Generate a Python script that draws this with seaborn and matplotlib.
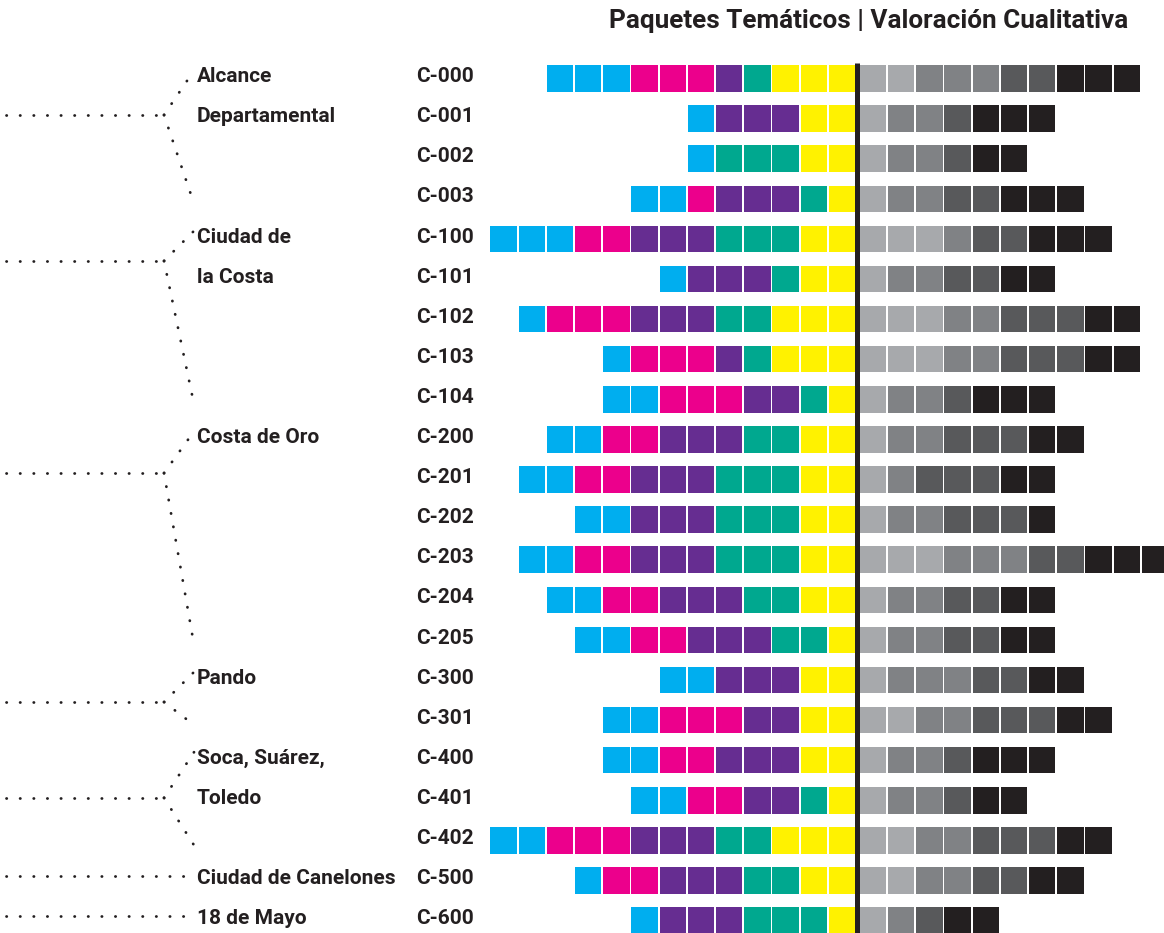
import pandas as pd
import matplotlib.pyplot as plt
import seaborn as sns

sns.set_theme(style="white")
plt.rcParams['font.family'] = ['Roboto', 'DejaVu Sans']

codigos = ['C-000', 'C-001', 'C-002', 'C-003', 'C-100', 'C-101', 'C-102', 'C-103', 'C-104',
           'C-200', 'C-201', 'C-202', 'C-203', 'C-204', 'C-205', 'C-300', 'C-301',
           'C-400', 'C-401', 'C-402', 'C-500', 'C-600']

# paquetes tematicos (izquierda)
cian     = [3, 1, 1, 2, 3, 1, 1, 1, 2, 2, 2, 2, 2, 2, 2, 2, 2, 2, 2, 2, 1, 1]
magenta  = [3, 0, 0, 1, 2, 0, 3, 3, 3, 2, 2, 0, 2, 2, 2, 0, 3, 2, 2, 3, 2, 0]
violeta  = [1, 3, 0, 3, 3, 3, 3, 1, 2, 3, 3, 3, 3, 3, 3, 3, 2, 3, 2, 3, 3, 3]
verde    = [1, 0, 3, 1, 3, 1, 2, 1, 1, 2, 3, 3, 3, 2, 2, 0, 0, 0, 1, 2, 2, 3]
amarillo = [3, 2, 2, 1, 2, 2, 3, 3, 1, 2, 2, 2, 2, 2, 1, 2, 2, 2, 1, 3, 2, 1]

# valoracion cualitativa (derecha)
claro  = [2, 1, 1, 1, 3, 1, 3, 3, 1, 1, 1, 1, 3, 1, 1, 1, 2, 1, 1, 2, 2, 1]
medio  = [3, 2, 2, 2, 1, 2, 2, 2, 2, 2, 1, 2, 3, 2, 2, 3, 2, 2, 2, 2, 2, 1]
oscuro = [2, 1, 1, 2, 2, 2, 3, 3, 1, 3, 3, 3, 2, 2, 2, 2, 3, 1, 1, 3, 2, 1]
negro  = [3, 3, 2, 3, 3, 2, 2, 2, 3, 2, 2, 1, 3, 2, 2, 2, 2, 3, 2, 2, 2, 2]

grupos = ['Alcance\nDepartamental', 'Ciudad de\nla Costa', 'Costa de Oro', 'Pando',
          'Soca, Suárez,\nToledo', 'Ciudad de Canelones', '18 de Mayo']
grupo_inicio = [0, 4, 9, 15, 17, 20, 21]

colores = {
    'cian': '#00aeef', 'magenta': '#ec008c', 'violeta': '#662d91',
    'verde': '#00a88f', 'amarillo': '#fff200',
    'claro': '#a7a9ac', 'medio': '#808285', 'oscuro': '#58595b', 'negro': '#231f20',
}

izq = [('amarillo', amarillo), ('verde', verde), ('violeta', violeta),
       ('magenta', magenta), ('cian', cian)]
der = [('claro', claro), ('medio', medio), ('oscuro', oscuro), ('negro', negro)]

registros = []
for i, cod in enumerate(codigos):
    k = 0
    for nivel, arr in izq:
        for _ in range(arr[i]):
            registros.append({'codigo': cod, 'fila': i, 'pos': -(k + 0.55), 'nivel': nivel})
            k += 1
    k = 0
    for nivel, arr in der:
        for _ in range(arr[i]):
            registros.append({'codigo': cod, 'fila': i, 'pos': k + 0.55, 'nivel': nivel})
            k += 1
df = pd.DataFrame(registros)

# layout: 1 unidad x = 28.2 px, 1 fila = 40.1 px, linea central en 857.5 px
PX, PY, X0, Y0 = 28.2, 40.1, 857.5, 78.5
def px(x):
    return (x - X0) / PX
def py(y):
    return (y - Y0) / PY

fig = plt.figure(figsize=(11.64, 9.33), dpi=100)
ax = fig.add_axes([0, 0, 1, 1])

lado = 26.5 * 0.72
sns.scatterplot(data=df, x='pos', y='fila', hue='nivel', palette=colores, marker='s',
                s=lado ** 2, linewidth=0, legend=False, ax=ax)

ax.vlines(0, py(63), py(940), color='#231f20', lw=3.6, zorder=5)

ax.set_xlim(px(0), px(1164))
ax.set_ylim(py(933), py(0))
ax.axis('off')

txt = dict(fontsize=15, fontweight='bold', color='#231f20', va='baseline')
for i, cod in enumerate(codigos):
    ax.text(px(416), i + 0.09, cod, ha='left', **txt)

# arbol punteado
punto = dict(color='#231f20', lw=2.0, linestyle=(0, (0.1, 4.8)), dash_capstyle='round')
union = [0.91, 0.55, 0.84, 0.55, 0.94]
fin = grupo_inicio[1:] + [len(codigos)]
for g, nombre in enumerate(grupos):
    a, b = grupo_inicio[g], fin[g] - 1
    for j, linea in enumerate(nombre.split('\n')):
        ax.text(px(197), a + j + 0.09, linea, ha='left', **txt)
    if a == b:
        ax.plot([px(6), px(194)], [a - 0.12, a - 0.12], **punto)
    else:
        yj = a + union[g]
        ax.plot([px(6), px(164)], [yj, yj], **punto)
        ax.plot([px(164), px(194)], [yj, a - 0.2], **punto)
        ax.plot([px(164), px(194)], [yj, b + 0.12], **punto)

ax.text(px(1128), py(28), 'Paquetes Temáticos | Valoración Cualitativa',
        ha='right', va='baseline', fontsize=18.8, fontweight='bold', color='#231f20')

fig.savefig('out.png', dpi=100)
